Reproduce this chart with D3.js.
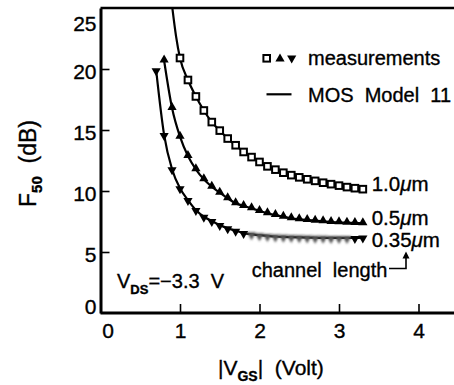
<!DOCTYPE html>
<html>
<head>
<meta charset="utf-8">
<script src="https://cdn.jsdelivr.net/npm/d3@7"></script>
<style>
  html, body { margin: 0; padding: 0; background: #fff; }
  svg { display: block; font-family: "Liberation Sans", Arial, Helvetica, sans-serif; }
  svg text { stroke: #000; stroke-width: 0.35px; fill: #000; }
</style>
</head>
<body>
<svg id="chart" width="454" height="385"></svg>
<script>
// |VGS| sweep (V) and measured F50 (dB) for each channel length
const vgs10 = [1.0,1.1,1.2,1.3,1.4,1.5,1.6,1.7,1.8,1.9,2.0,2.1,2.2,2.3,2.4,2.5,2.6,2.7,2.8,2.9,3.0,3.1,3.2,3.3];
const f10   = [20.9,19.1,17.75,16.6,15.65,14.95,14.3,13.75,13.2,12.78,12.38,12.02,11.75,11.5,11.3,11.12,10.96,10.83,10.68,10.56,10.44,10.32,10.23,10.15];

const vgs05 = [0.8,0.9,1.0,1.1,1.2,1.3,1.4,1.5,1.6,1.7,1.8,1.9,2.0,2.1,2.2,2.3,2.4,2.5,2.6,2.7,2.8,2.9,3.0,3.1,3.2,3.3];
const f05   = [20.7,16.8,14.45,12.87,11.78,10.96,10.35,9.86,9.4,8.99,8.78,8.58,8.36,8.17,8.03,7.89,7.76,7.68,7.62,7.57,7.52,7.46,7.43,7.4,7.38,7.35];

const vgs035 = [0.7,0.8,0.9,1.0,1.1,1.2,1.3,1.4,1.5,1.6,1.7,1.8,1.9,2.0,2.1,2.2,2.3,2.4,2.5,2.6,2.7,2.8,2.9,3.0,3.1,3.2,3.3];
const f035   = [19.9,14.6,11.78,10.22,9.26,8.44,7.89,7.54,7.21,6.94,6.75,6.55,6.45,6.38,6.32,6.27,6.24,6.22,6.2,6.18,6.17,6.16,6.15,6.15,6.15,6.15,6.18];

// MOS Model 11 curve for the 1.0 um device continues above the first measurement
const modelLead10 = [[0.9, 25.2], [0.95, 22.7]];

const xTicks = [0, 1, 2, 3, 4];
const yTicks = [0, 5, 10, 15, 20, 25];
const lengthLabels = ["1.0", "0.5", "0.35"];

const svg = d3.select("#chart");
const W = 454;
const x = d3.scaleLinear().domain([0, 5]).range([100.5, 498]);
const y = d3.scaleLinear().domain([0, 25]).range([313, 8]);

const defs = svg.append("defs");
defs.append("clipPath").attr("id", "plot")
  .append("rect").attr("x", x(0)).attr("y", y(25)).attr("width", W - x(0)).attr("height", y(0) - y(25));
defs.append("filter").attr("id", "smear").attr("x", "-50%").attr("y", "-50%").attr("width", "200%").attr("height", "200%")
  .append("feGaussianBlur").attr("stdDeviation", 1.1);

// frame: top border
svg.append("line").attr("x1", x(0)).attr("x2", W).attr("y1", y(25)).attr("y2", y(25))
  .attr("stroke", "#000").attr("stroke-width", 2.5);

// axes
const gx = svg.append("g").attr("transform", `translate(0,${y(0)})`)
  .call(d3.axisBottom(x).tickValues(xTicks).tickSizeInner(-9).tickSizeOuter(0).tickPadding(10).tickFormat(d3.format("d")));
gx.select(".domain").attr("d", `M${x(0)},0H${W}`).attr("stroke-width", 3);
gx.selectAll(".tick line").attr("stroke-width", 1.6).filter(d => d === 0).remove();
gx.selectAll(".tick text").attr("font-size", 21).attr("font-family", null)
  .filter(d => d === 0).attr("dx", 7);

const gy = svg.append("g").attr("transform", `translate(${x(0)},0)`)
  .call(d3.axisLeft(y).tickValues(yTicks).tickSizeInner(-9).tickSizeOuter(0).tickPadding(4).tickFormat(d3.format("d")));
gy.select(".domain").attr("stroke-width", 3);
gy.selectAll(".tick line").attr("stroke-width", 1.6).filter(d => d === 0 || d === 25).remove();
gy.selectAll(".tick text").attr("font-size", 21).attr("font-family", null).attr("dy", "0.46em");
gy.selectAll(".tick text").filter(d => d === 0).attr("dy", "0.0em");
gy.selectAll(".tick text").filter(d => d === 25).attr("dy", "1.05em");

// model curves
const line = d3.line().x(d => x(d[0])).y(d => y(d[1])).curve(d3.curveMonotoneX);
const pairs = (v, f) => v.map((d, i) => [d, f[i]]);
const curves = [
  modelLead10.concat(pairs(vgs10, f10)),
  pairs(vgs05, f05),
  pairs(vgs035, f035)
];
const plot = svg.append("g").attr("clip-path", "url(#plot)");
plot.selectAll("path.model").data(curves).join("path")
  .attr("class", "model").attr("d", line)
  .attr("fill", "none").attr("stroke", "#000").attr("stroke-width", 2.2);

// measurement markers
const triUp = "M0,-5L4.6,3L-4.6,3Z";
const triDown = "M0,5L4.6,-3L-4.6,-3Z";
plot.selectAll("rect.m10").data(pairs(vgs10, f10)).join("rect")
  .attr("class", "m10")
  .attr("x", d => x(d[0]) - 3.3).attr("y", d => y(d[1]) - 3.3)
  .attr("width", 6.6).attr("height", 6.6)
  .attr("fill", "#fff").attr("stroke", "#000").attr("stroke-width", 2);
plot.selectAll("path.m05").data(pairs(vgs05, f05)).join("path")
  .attr("class", "m05").attr("d", triUp)
  .attr("transform", d => `translate(${x(d[0])},${y(d[1]) - 1})`)
  .attr("fill", "#000");
// the flat tail of the 0.35 um trace prints as a soft grey band
const m035 = plot.selectAll("path.m035").data(pairs(vgs035, f035)).join("path")
  .attr("class", "m035").attr("d", triDown)
  .attr("transform", d => `translate(${x(d[0])},${y(d[1]) + 1})`)
  .attr("fill", "#000");
m035.filter(d => d[0] >= 1.9 && d[0] <= 3.15).attr("fill", "#555").attr("filter", "url(#smear)");

// legend
const leg = svg.append("g");
leg.append("rect").attr("x", 263.4).attr("y", 55).attr("width", 6.6).attr("height", 6.6)
  .attr("fill", "#fff").attr("stroke", "#000").attr("stroke-width", 2);
leg.append("path").attr("d", triUp).attr("transform", "translate(280,58.5)");
leg.append("path").attr("d", triDown).attr("transform", "translate(291.7,58.5)");
leg.append("text").attr("x", 308).attr("y", 65).attr("font-size", 20).text("measurements");
leg.append("line").attr("x1", 266.5).attr("x2", 291.5).attr("y1", 94.3).attr("y2", 94.3)
  .attr("stroke", "#000").attr("stroke-width", 2.2);
leg.append("text").attr("x", 308).attr("y", 101.7).attr("font-size", 20)
  .attr("xml:space", "preserve").text("MOS  Model  11");

// channel length labels at the end of each curve
const labelY = [191, 225, 247];
lengthLabels.forEach((s, i) => {
  const t = svg.append("text").attr("x", 371.7).attr("y", labelY[i]).attr("font-size", 20.5);
  t.append("tspan").text(s);
  t.append("tspan").attr("font-style", "italic").text("\u03bc");
  t.append("tspan").text("m");
});

svg.append("text").attr("x", 251.7).attr("y", 277).attr("font-size", 20)
  .attr("xml:space", "preserve").text("channel  length");
svg.append("path").attr("d", "M389,268.5H406V256").attr("fill", "none").attr("stroke", "#000").attr("stroke-width", 1.6);
svg.append("path").attr("d", "M406,251.5L402.5,258.5L409.5,258.5Z").attr("fill", "#000");

// drain bias note
const vds = svg.append("text").attr("x", 117).attr("y", 288).attr("font-size", 20).attr("xml:space", "preserve");
vds.append("tspan").text("V");
vds.append("tspan").attr("font-size", 13).attr("font-weight", "bold").attr("dy", 6).text("DS");
vds.append("tspan").attr("dy", -6).text("=\u22123.3  V");

// axis titles
const xt = svg.append("text").attr("x", 218).attr("y", 375).attr("font-size", 21).attr("xml:space", "preserve");
xt.append("tspan").text("|V");
xt.append("tspan").attr("font-size", 14).attr("font-weight", "bold").attr("dy", 6).text("GS");
xt.append("tspan").attr("dy", -6).text("|  (Volt)");

const yt = svg.append("text").attr("transform", "translate(36,207) rotate(-90)").attr("font-size", 23)
  .attr("xml:space", "preserve");
yt.append("tspan").text("F");
yt.append("tspan").attr("font-size", 15).attr("font-weight", "bold").attr("dy", 6).text("50");
yt.append("tspan").attr("dy", -6).text("  (dB)");
</script>
</body>
</html>
